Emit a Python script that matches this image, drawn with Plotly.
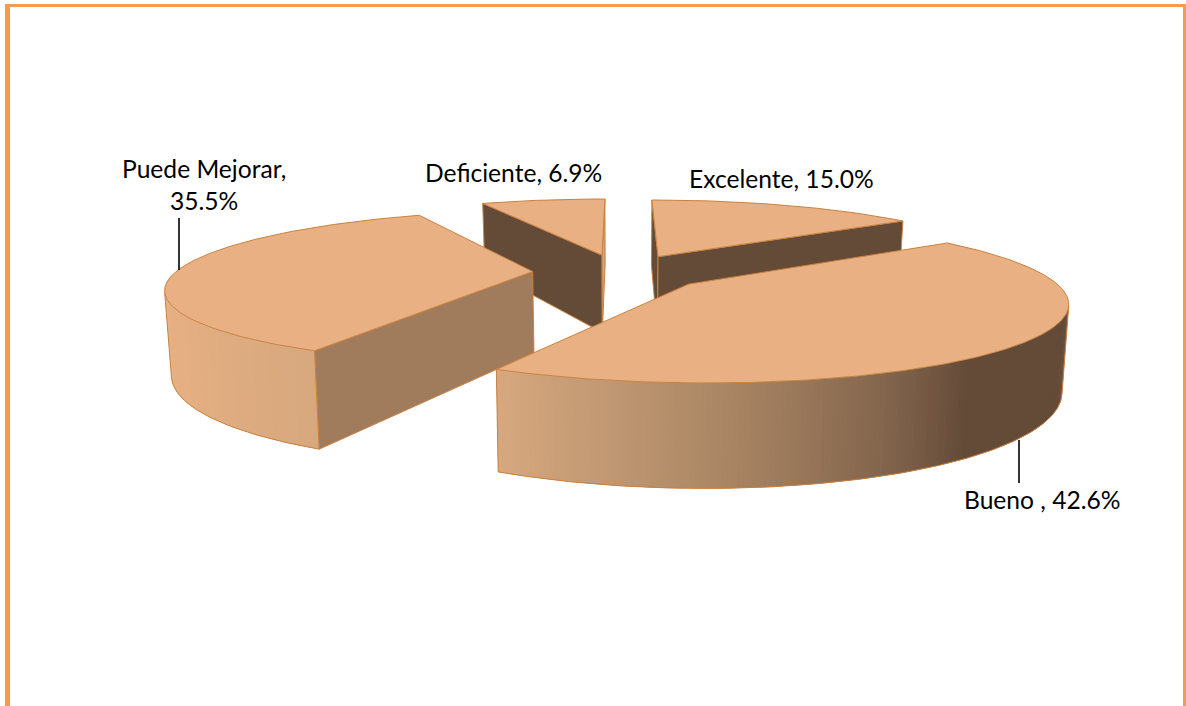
import numpy as np
import plotly.graph_objects as go

# Survey results, clockwise from the top of the pie
categories = ["Excelente", "Bueno ", "Puede Mejorar", "Deficiente"]
shares = [15.0, 42.6, 35.5, 6.9]
separators = [", ", ", ", ",<br>", ", "]

W, H = 1186, 706

# Camera model for the tilted disc: plane coordinates (radius 1) to pixels
CX, CY = 620.0, 272.0
SX, SY = 357.0, 73.5
PERSPECTIVE = 0.2
DEPTH = 81.0
BASE_SHRINK = 0.985
EXPLODE = 0.245

TOP = "#E8B083"
EDGE = "#C9823F"
DARK = "#644B38"
# Side wall shade against the wall's outward direction in degrees
WALL_ANGLES = [0, 143, 158, 180, 195, 207, 240, 360]
WALL_COLOURS = ["#644B38", "#644B38", "#86684F", "#AE8966", "#C49B75", "#D7A87E", "#E5AF83", "#E5AF83"]
# Flat walls along the cut edges: (first edge, last edge) per slice
CUT_FACES = [(DARK, DARK), (DARK, DARK), ("#A07C5C", DARK), (DARK, "#D2A27A")]

LABEL_POS = [(781, 178.5), (1042, 499.5), (204, 184.5), (513, 172.5)]
LEADERS = [((179, 218), (179, 270)), ((1019, 440), (1019, 483))]


def project(x, y):
    w = 1 + PERSPECTIVE * y
    return CX + SX * x / w, CY - SY * y / w, DEPTH / w


def top_point(x, y):
    px, py, _ = project(x, y)
    return px, py


def base_point(x, y):
    px, py, d = project(x, y)
    return CX + (px - CX) * BASE_SHRINK, py + d


def shoelace(points):
    xs = np.array([p[0] for p in points])
    ys = np.array([p[1] for p in points])
    return 0.5 * np.sum(xs * np.roll(ys, -1) - np.roll(xs, -1) * ys)


def hex_rgb(c):
    return np.array([int(c[i:i + 2], 16) for i in (1, 3, 5)], float)


def wall_colour(angle):
    channels = np.array([hex_rgb(c) for c in WALL_COLOURS])
    rgb = [np.interp(angle % 360, WALL_ANGLES, channels[:, i]) for i in range(3)]
    return "rgb({:.0f},{:.0f},{:.0f})".format(*rgb)


def polygon(points, fill, line=None, width=1.0):
    xs = [p[0] for p in points] + [points[0][0]]
    ys = [p[1] for p in points] + [points[0][1]]
    return go.Scatter(x=xs, y=ys, mode="lines", fill="toself", fillcolor=fill,
                      line=dict(color=line or fill, width=width if line else 0),
                      hoverinfo="skip", showlegend=False)


def polyline(points, colour=EDGE, width=1.0):
    return go.Scatter(x=[p[0] for p in points], y=[p[1] for p in points], mode="lines",
                      line=dict(color=colour, width=width), hoverinfo="skip", showlegend=False)


# Slice angles follow from the shares
total = sum(shares)
ends = np.cumsum(shares) / total * 360.0
starts = np.concatenate(([0.0], ends[:-1]))


def slice_traces(i):
    t0, t1 = starts[i], ends[i]
    mid = np.radians((t0 + t1) / 2)
    ax, ay = EXPLODE * np.sin(mid), EXPLODE * np.cos(mid)

    angles = np.linspace(t0, t1, max(int((t1 - t0) * 1.5), 8))
    rim = [(ax + np.sin(np.radians(a)), ay + np.cos(np.radians(a))) for a in angles]
    traces = []

    # Cut faces that look towards the camera, wound the same way as the top face
    for (a, b), colour in (((( ax, ay), rim[0]), CUT_FACES[i][0]), ((rim[-1], (ax, ay)), CUT_FACES[i][1])):
        quad = [top_point(*a), top_point(*b), base_point(*b), base_point(*a)]
        if shoelace(quad) < 0:
            traces.append(polygon(quad, colour, EDGE, 1.0))

    # Curved outer wall: each band runs one step past its end and the next band paints over it
    seen_top, seen_base = [], []
    for k in range(len(rim) - 1):
        quad = [top_point(*rim[k]), top_point(*rim[k + 1]), base_point(*rim[k + 1]), base_point(*rim[k])]
        if shoelace(quad) < 0:
            far = rim[min(k + 2, len(rim) - 1)]
            band = [quad[0], top_point(*far), base_point(*far), quad[3]]
            traces.append(polygon(band, wall_colour((angles[k] + angles[k + 1]) / 2)))
            seen_base.extend([quad[3], quad[2]])
            seen_top.extend([quad[0], quad[1]])
    if seen_base:
        traces.append(polyline(seen_base))
        traces.append(polyline([seen_base[0], seen_top[0]]))
        traces.append(polyline([seen_base[-1], seen_top[-1]]))

    # Top face
    outline = [top_point(ax, ay)] + [top_point(*p) for p in rim]
    traces.append(polygon(outline, TOP, EDGE, 1.0))
    return traces


fig = go.Figure()
# Far slices first so nearer ones cover them
for index in (3, 0, 2, 1):
    fig.add_traces(slice_traces(index))

for (a, b) in LEADERS:
    fig.add_trace(polyline([a, b], "#000000", 1.6))

for name, value, sep, (lx, ly) in zip(categories, shares, separators, LABEL_POS):
    fig.add_annotation(x=lx, y=ly, xref="x", yref="y", showarrow=False, align="center",
                       text=f"{name}{sep}{value:.1f}%",
                       font=dict(family="Lato", size=24.6, color="#000000"))

# Page frame, open at the bottom edge
FRAME = "#F79A4B"
for x0, y0, x1, y1 in ((5, 4, 10, H + 5), (5, 4, W, 7), (1183, 4, W, H + 5)):
    fig.add_shape(type="rect", x0=x0, y0=y0, x1=x1, y1=y1, line_width=0, fillcolor=FRAME, layer="below")

fig.update_layout(width=W, height=H, autosize=False, margin=dict(l=0, r=0, t=0, b=0),
                  paper_bgcolor="white", plot_bgcolor="white", showlegend=False,
                  xaxis=dict(range=[0, W], visible=False, fixedrange=True),
                  yaxis=dict(range=[H, 0], visible=False, fixedrange=True))

fig.write_html("out.html", config=dict(displayModeBar=False))
